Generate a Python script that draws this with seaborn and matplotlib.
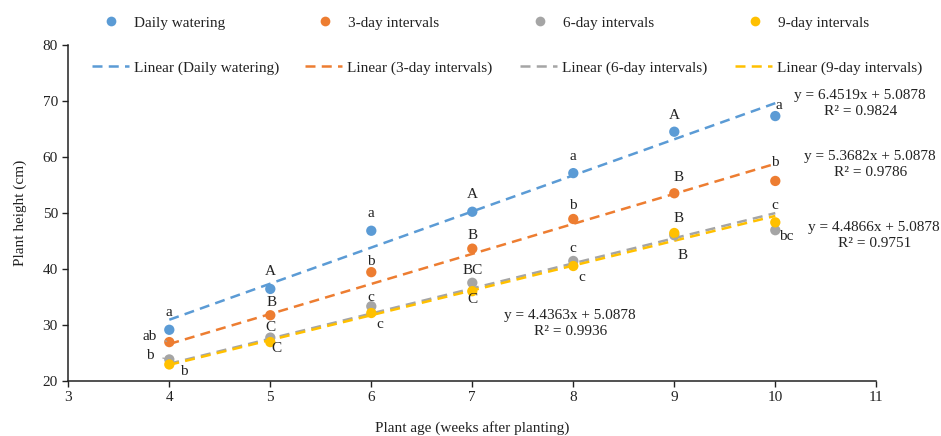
import numpy as np
import pandas as pd
import matplotlib
matplotlib.use("Agg")
import matplotlib.pyplot as plt
from matplotlib.lines import Line2D
import seaborn as sns

# ---------------- data ----------------
weeks = [4, 5, 6, 7, 8, 9, 10]
series = ["Daily watering", "3-day intervals", "6-day intervals", "9-day intervals"]
daily = [29.1, 36.4, 46.8, 50.2, 57.1, 64.5, 67.3]
day3 = [26.9, 31.7, 39.4, 43.6, 48.9, 53.5, 55.7]
day6 = [23.8, 27.7, 33.3, 37.5, 41.4, 46.0, 46.9]
day9 = [22.9, 26.9, 32.1, 36.0, 40.5, 46.4, 48.3]
letters_daily = ["a", "A", "a", "A", "a", "A", "a"]
letters_3 = ["ab", "B", "b", "B", "b", "B", "b"]
letters_6 = ["b", "C", "c", "BC", "c", "B", "bc"]
letters_9 = ["b", "C", "c", "C", "c", "B", "c"]
slopes = [6.4519, 5.3682, 4.4866, 4.4363]
intercepts = [5.0878, 5.0878, 5.0878, 5.0878]
r2 = [0.9824, 0.9786, 0.9751, 0.9936]
x_ticks = [3, 4, 5, 6, 7, 8, 9, 10, 11]
y_ticks = [20, 30, 40, 50, 60, 70, 80]

# ---------------- style ----------------
colors = ["#5B9BD5", "#ED7D31", "#A5A5A5", "#FFC000"]
sns.set_style("ticks")
plt.rcParams["font.family"] = ["Liberation Serif", "DejaVu Serif"]
FS = 11
TXT = "#222222"
W, H = 941, 436

values = [daily, day3, day6, day9]
letters = [letters_daily, letters_3, letters_6, letters_9]
df = pd.DataFrame({
    "week": np.tile(weeks, 4),
    "height": np.concatenate(values),
    "series": np.repeat(series, len(weeks)),
})
fit_x = np.array([min(weeks), max(weeks)], dtype=float)
fit = pd.DataFrame({
    "week": np.tile(fit_x, 4),
    "height": np.concatenate([s * fit_x + b for s, b in zip(slopes, intercepts)]),
    "series": np.repeat(series, 2),
})

fig = plt.figure(figsize=(W / 100, H / 100), dpi=100)
ax = fig.add_axes([68.3 / W, 1 - 380.7 / H, 808 / W, 335.7 / H])

pal = dict(zip(series, colors))
sns.lineplot(data=fit, x="week", y="height", hue="series", palette=pal,
             ax=ax, legend=False, linewidth=1.8, zorder=3)
for ln in ax.get_lines():
    ln.set_dashes((4, 2.5))
sns.scatterplot(data=df, x="week", y="height", hue="series", palette=pal,
                ax=ax, legend=False, s=55, edgecolor="none", zorder=4)

# letter offsets (pixels) per series and week
offs = [
    [(0, 17), (0, 17), (0, 17), (0, 17), (0, 17), (0, 16), (4, 11)],
    [(-20, 6), (1, 13), (0, 11), (0, 13), (0, 14), (4, 16), (0, 18)],
    [(-19, 4), (0, 10), (0, 9), (0, 12), (0, 12), (8, -20), (11, -6)],
    [(15, -7), (6, -6), (9, -11), (0, -8), (9, -11), (4, 14), (0, 17)],
]
leaders = {(1, 0), (2, 0), (2, 5)}
for si in range(4):
    for wi, w in enumerate(weeks):
        dx, dy = offs[si][wi]
        kw = {}
        if (si, wi) in leaders:
            kw["arrowprops"] = dict(arrowstyle="-", color="#A5A5A5", lw=0.9,
                                    shrinkA=4, shrinkB=2)
        ax.annotate(letters[si][wi], (w, values[si][wi]), xytext=(dx, dy),
                    textcoords="offset pixels", ha="center", va="center",
                    fontsize=FS, color=TXT, zorder=5, **kw)

# equations
eq_pos = [(10.84, 69.5), (10.94, 58.7), (10.98, 46.0), (7.97, 30.2)]
for i in range(4):
    ax.text(eq_pos[i][0], eq_pos[i][1],
            f"y = {slopes[i]:.4f}x + {intercepts[i]:.4f}\nR\u00b2 = {r2[i]:.4f}",
            ha="center", va="center", fontsize=FS, color=TXT,
            linespacing=1.3, clip_on=False)

ax.set_xlim(3, 11)
ax.set_ylim(20, 80)
ax.set_xticks(x_ticks)
ax.set_yticks(y_ticks)
ax.tick_params(labelsize=FS, colors=TXT, length=4, width=1)
for sp in ["left", "bottom"]:
    ax.spines[sp].set_color(TXT)
    ax.spines[sp].set_linewidth(1.1)
sns.despine(ax=ax)
ax.set_xlabel("Plant age (weeks after planting)", fontsize=FS, color=TXT, labelpad=12)
ax.set_ylabel("Plant height (cm)", fontsize=FS, color=TXT, labelpad=11)

# legends: one entry each, placed at the reference positions
px = FS * 100 / 72  # font size in pixels
row1_x = [111, 325, 540, 755]
row1_y = 22.7
for c, s, x0 in zip(colors, series, row1_x):
    h = Line2D([], [], ls="none", marker="o", ms=7, color=c, mec="none")
    hl = 1.0
    fig.legend([h], [s], loc="center left",
               bbox_to_anchor=((x0 - hl * px / 2) / W, 1 - row1_y / H),
               frameon=False, fontsize=FS, handlelength=hl,
               handletextpad=(23 - hl * px / 2) / px, borderpad=0,
               borderaxespad=0, labelcolor=TXT)
row2_x = [92, 305, 520, 735]
row2_y = 68
for c, s, x0 in zip(colors, series, row2_x):
    h = Line2D([], [], ls=(0, (4, 2.5)), lw=1.8, color=c)
    fig.legend([h], [f"Linear ({s})"], loc="center left",
               bbox_to_anchor=(x0 / W, 1 - row2_y / H),
               frameon=False, fontsize=FS, handlelength=37 / px,
               handletextpad=5 / px, borderpad=0, borderaxespad=0,
               labelcolor=TXT)

fig.savefig("out.png", dpi=100)
